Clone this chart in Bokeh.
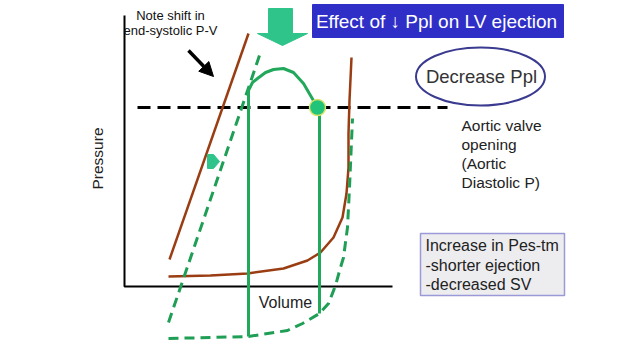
from bokeh.plotting import figure
from bokeh.models import Range1d, Arrow, NormalHead
from bokeh.core.properties import value
from bokeh.embed import file_html
from bokeh.resources import INLINE

FONT = "Liberation Sans"

# Axes of the diagram (pixel-like diagram coordinates, y grows downward)
axis_x = [124, 124, 392]
axis_y = [15, 286, 286]

# Aortic diastolic pressure level
aortic_x = [137, 447]
aortic_y = [107, 107]

# Baseline (brown) ESPVR and EDPVR
espvr_x = [169, 248]
espvr_y = [259, 33]
edpvr_x = [168, 210, 247, 283, 307, 320, 333, 342, 346, 348, 348, 349, 351]
edpvr_y = [276, 275, 273, 268, 260, 252, 237, 217, 193, 167, 133, 100, 57]

# Shifted (green dashed) ESPVR and EDPVR
espvr2_x = [168, 259]
espvr2_y = [322, 55]
edpvr2_x = [168, 210, 248, 287, 302, 319, 328, 335, 340, 343, 347, 349, 352]
edpvr2_y = [338, 337, 336, 330, 323, 313, 303, 285, 267, 257, 227, 187, 118]

# Green PV loop (solid)
loop_x = [248, 248, 252, 257, 265, 273, 283, 293, 303, 310, 317, 319, 319]
loop_y = [336, 90, 82, 78, 72, 69, 68, 72, 83, 95, 107, 107, 313]
av_open_x = [317]
av_open_y = [107]

# Arrows
big_arrow_x = [268, 292, 292, 307, 282, 257, 268]
big_arrow_y = [8, 8, 33, 33, 45, 33, 33]
small_arrow_x = [207, 213, 219, 213, 207]
small_arrow_y = [154, 154, 161, 168, 168]

BROWN = "#9A3D12"
GREEN = "#22A85A"
GREEN_D = "#1F9E55"
MINT = "#2EC48A"

p = figure(width=624, height=344, x_range=Range1d(0, 624), y_range=Range1d(344, 0),
           output_backend="svg", toolbar_location=None, min_border=0)
p.axis.visible = False
p.grid.visible = False
p.outline_line_color = None
p.background_fill_color = "white"

# axes
p.line(axis_x, axis_y, line_color="black", line_width=2)

# aortic dashed line
p.line(aortic_x, aortic_y, line_color="black", line_width=3, line_dash="13 7")

# brown curves
p.line(espvr_x, espvr_y, line_color=BROWN, line_width=2.5)
p.line(edpvr_x, edpvr_y, line_color=BROWN, line_width=2.5)

# green dashed curves
p.line(espvr2_x, espvr2_y, line_color=GREEN_D, line_width=3, line_dash="10 6")
p.line(edpvr2_x, edpvr2_y, line_color=GREEN_D, line_width=3, line_dash="10 6")

# green loop
p.line(loop_x, loop_y, line_color=GREEN, line_width=3)
p.scatter(av_open_x, av_open_y, size=16, fill_color="#22C47A", line_color="#D9E36A", line_width=1.5)

# arrows
p.patch(big_arrow_x, big_arrow_y, fill_color=MINT, line_color=MINT)
p.patch(small_arrow_x, small_arrow_y, fill_color=MINT, line_color=MINT)
p.add_layout(Arrow(end=NormalHead(size=14, fill_color="black", line_color="black"),
                   x_start=188, y_start=50, x_end=213, y_end=76,
                   line_color="black", line_width=3.5))

# annotation texts
p.text([170, 170], [15, 30], text=["Note shift in", "end-systolic P-V"],
       text_font=value(FONT), text_font_size="13px", text_align="center",
       text_baseline="middle", text_color="#111111")

# title box
p.quad(left=[312], right=[563], top=[4], bottom=[37], fill_color="#2F2FC8", line_color="#2F2FC8")
p.text([436], [21], text=["Effect of \u2193 Ppl on LV ejection"], text_font=value(FONT),
       text_font_size="19px", text_align="center", text_baseline="middle", text_color="white")

# ellipse
p.ellipse(x=[480], y=[76], width=129, height=58, fill_color=None,
          line_color="#3A3A90", line_width=2)
p.text([481], [76], text=["Decrease Ppl"], text_font=value(FONT), text_font_size="18.5px",
       text_align="center", text_baseline="middle", text_color="#333333")

# aortic valve text
p.text([461, 461, 461, 461], [125, 144, 163, 182],
       text=["Aortic valve", "opening", "(Aortic", "Diastolic P)"],
       text_font=value(FONT), text_font_size="15.5px", text_align="left",
       text_baseline="middle", text_color="#222222")

# info box
p.quad(left=[420], right=[564], top=[233], bottom=[295], fill_color="#EDEDF0",
       line_color="#9A9AD8", line_width=1.5)
p.text([425, 425, 425], [245, 265, 284],
       text=["Increase in Pes-tm", "-shorter ejection", "-decreased SV"],
       text_font=value(FONT), text_font_size="16px", text_align="left",
       text_baseline="middle", text_color="#222222")

# axis labels
p.text([285], [302], text=["Volume"], text_font=value(FONT), text_font_size="16px",
       text_align="center", text_baseline="middle", text_color="#222222")
p.text([97], [158], text=["Pressure"], angle=1.5708, text_font=value(FONT),
       text_font_size="15.5px", text_align="center", text_baseline="middle", text_color="#222222")

open("out.html", "w").write(file_html(p, INLINE))
